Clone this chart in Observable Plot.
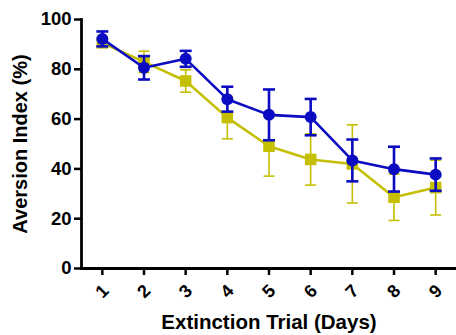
<!DOCTYPE html>
<html>
<head>
<meta charset="utf-8">
<script src="https://cdn.jsdelivr.net/npm/d3@7"></script>
<script src="https://cdn.jsdelivr.net/npm/@observablehq/plot@0.6"></script>
<style>
  html, body { margin: 0; padding: 0; background: #fff; }
  #chart svg { display: block; }
</style>
</head>
<body>
<div id="chart"></div>
<script>
// Data
const days = [1, 2, 3, 4, 5, 6, 7, 8, 9];
const blueMean = [92.2, 80.6, 84.2, 68.0, 61.7, 60.8, 43.4, 39.9, 37.7];
const blueErr  = [3.0, 4.7, 3.2, 5.0, 10.2, 7.3, 8.4, 9.0, 6.5];
const yellowMean = [90.6, 83.0, 75.3, 60.6, 49.1, 43.8, 42.0, 28.6, 32.5];
const yellowErr  = [1.5, 4.3, 4.5, 8.5, 12.0, 10.3, 15.7, 9.3, 11.0];
const yTicks = [0, 20, 40, 60, 80, 100];
const xTitle = "Extinction Trial (Days)";
const yTitle = "Aversion Index (%)";

const blue = "#0b0bc2";
const yellow = "#c4bf00";

const blueData = days.map((d, i) => ({day: d, v: blueMean[i], lo: blueMean[i] - blueErr[i], hi: blueMean[i] + blueErr[i]}));
const yellowData = days.map((d, i) => ({day: d, v: yellowMean[i], lo: yellowMean[i] - yellowErr[i], hi: yellowMean[i] + yellowErr[i]}));

// horizontal-line symbol for error bar caps
const capSymbol = {
  draw(context, size) {
    const r = Math.sqrt(size / Math.PI);
    context.moveTo(-r, 0);
    context.lineTo(r, 0);
  }
};

const font = "'Liberation Sans', Arial, Helvetica, sans-serif";

function errorMarks(data, color, sw, capR) {
  return [
    Plot.ruleX(data, {x: "day", y1: "lo", y2: "hi", stroke: color, strokeWidth: sw}),
    Plot.dot(data, {x: "day", y: "lo", symbol: capSymbol, r: capR, stroke: color, strokeWidth: sw}),
    Plot.dot(data, {x: "day", y: "hi", symbol: capSymbol, r: capR, stroke: color, strokeWidth: sw})
  ];
}

const chart = Plot.plot({
  width: 456,
  height: 335,
  marginLeft: 81,
  marginRight: 0,
  marginTop: 19,
  marginBottom: 67,
  style: {fontFamily: font, background: "#fff", color: "#000"},
  x: {type: "linear", domain: [0.5, 9.5]},
  y: {domain: [0, 100]},
  marks: [
    // yellow series
    ...errorMarks(yellowData, yellow, 1.6, 5.5),
    Plot.line(yellowData, {x: "day", y: "v", stroke: yellow, strokeWidth: 2.6}),
    Plot.dot(yellowData, {x: "day", y: "v", symbol: "square", r: 6.5, fill: yellow}),
    // blue series
    ...errorMarks(blueData, blue, 2.6, 6),
    Plot.line(blueData, {x: "day", y: "v", stroke: blue, strokeWidth: 2.6}),
    Plot.dot(blueData, {x: "day", y: "v", symbol: "circle", r: 6, fill: blue}),
    // axes
    Plot.axisY({ticks: yTicks, tickSize: 7, tickPadding: 3, tickFormat: d => d, fontSize: 18.5, fontWeight: "bold", label: null, strokeWidth: 2.5}),
    Plot.axisX({ticks: days, tickSize: 7, tickFormat: () => "", label: null, strokeWidth: 2.5}),
    Plot.text(days, {x: d => d, y: yTicks[0], text: d => String(d), rotate: -45, dy: 23, fontSize: 18, fontWeight: "bold", textAnchor: "middle", lineAnchor: "middle", fill: "#000"}),
    Plot.ruleY([0], {stroke: "#000", strokeWidth: 2.8}),
    Plot.frame({anchor: "left", stroke: "#000", strokeWidth: 2.8}),
    // axis titles
    Plot.text([yTitle], {frameAnchor: "left", rotate: -90, dx: -61, fontSize: 20, fontWeight: "bold", lineAnchor: "middle", textAnchor: "middle", fill: "#000"}),
    Plot.text([xTitle], {frameAnchor: "bottom", dy: 54, fontSize: 20.5, fontWeight: "bold", lineAnchor: "middle", textAnchor: "middle", fill: "#000"})
  ]
});

document.getElementById("chart").appendChild(chart);
</script>
</body>
</html>
